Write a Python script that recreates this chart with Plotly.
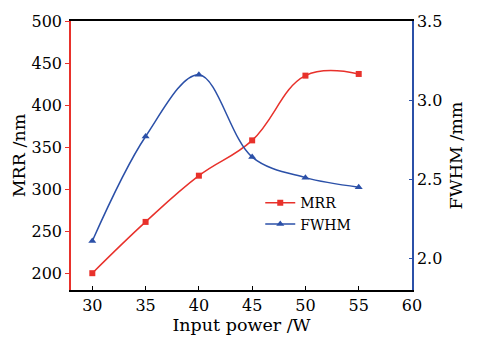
import plotly.graph_objects as go

power = [30, 35, 40, 45, 50, 55]
mrr = [200, 261, 316, 358, 435, 437]
fwhm = [2.11, 2.77, 3.16, 2.64, 2.51, 2.45]

RED = "#e8312b"
BLUE = "#2b50a8"
FONT = "DejaVu Serif"

fig = go.Figure()
fig.add_trace(go.Scatter(x=power, y=mrr, name="MRR", mode="lines+markers",
                         line=dict(color=RED, width=1.5, shape="spline", smoothing=1.15),
                         marker=dict(symbol="square", size=6, color=RED)))
fig.add_trace(go.Scatter(x=power, y=fwhm, name="FWHM", mode="lines+markers", yaxis="y2",
                         line=dict(color=BLUE, width=1.5, shape="spline"),
                         marker=dict(symbol="triangle-up", size=7, color=BLUE)))

fig.update_layout(
    width=481, height=343,
    margin=dict(l=71, r=69, t=17, b=50),
    paper_bgcolor="white", plot_bgcolor="white",
    font=dict(family=FONT, size=16, color="black"),
    showlegend=True,
    legend=dict(x=0.555, y=0.382, xanchor="left", yanchor="top",
                font=dict(size=14), bgcolor="rgba(0,0,0,0)",
                tracegroupgap=0, itemwidth=30),
    xaxis=dict(range=[28, 60], tickvals=[30, 35, 40, 45, 50, 55, 60],
               showline=True, linecolor="black", linewidth=1.5, mirror=True,
               ticks="inside", ticklen=4, tickcolor="black",
               showgrid=False, zeroline=False,
               title=dict(text="Input power /W", font=dict(size=17.5), standoff=4)),
    yaxis=dict(range=[180, 500], tickvals=[200, 250, 300, 350, 400, 450, 500],
               showline=True, linecolor=RED, linewidth=1.5,
               ticks="outside", ticklen=4, tickcolor=RED,
               showgrid=False, zeroline=False,
               title=dict(text="MRR /nm", font=dict(size=17.5), standoff=1)),
    yaxis2=dict(range=[1.8, 3.5], tickvals=[2.0, 2.5, 3.0, 3.5], tickformat=".1f",
                overlaying="y", side="right",
                showline=True, linecolor=BLUE, linewidth=1.5,
                ticks="inside", ticklen=3, tickcolor=BLUE,
                showgrid=False, zeroline=False,
                title=dict(text="FWHM /mm", font=dict(size=17.5), standoff=8)),
)

fig.write_html("out.html")
